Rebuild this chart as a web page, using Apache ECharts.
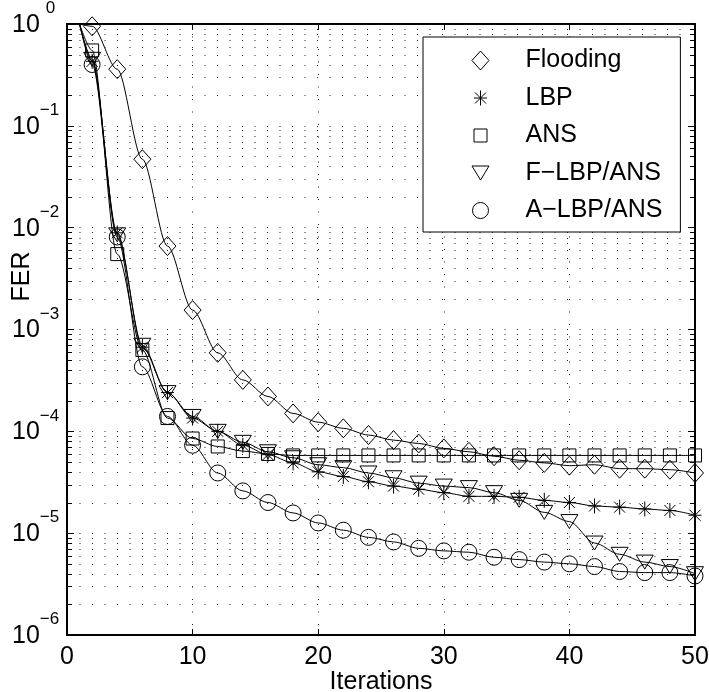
<!DOCTYPE html>
<html><head><meta charset="utf-8">
<script src="https://cdn.jsdelivr.net/npm/echarts@6/dist/echarts.min.js"></script>
<style>html,body{margin:0;padding:0;background:#fff}#c{width:709px;height:692px}</style>
</head><body><div id="c"></div>
<script>
const iterations = [1,2,4,6,8,10,12,14,16,18,20,22,24,26,28,30,32,34,36,38,40,42,44,46,48,50];
const flooding = [1,0.95,0.36,0.047,0.0066,0.00155,5.9e-4,3.2e-4,2.2e-4,1.5e-4,1.23e-4,1.07e-4,9.2e-5,8.2e-5,7.6e-5,6.8e-5,6.3e-5,5.7e-5,5.2e-5,4.9e-5,4.6e-5,4.7e-5,4.3e-5,4.3e-5,4.2e-5,3.9e-5];
const lbp = [1,0.43,0.0089,6.7e-4,2.4e-4,1.35e-4,1.0e-4,7.3e-5,5.9e-5,4.9e-5,4.0e-5,3.6e-5,3.2e-5,2.9e-5,2.7e-5,2.5e-5,2.3e-5,2.3e-5,2.25e-5,2.1e-5,2.0e-5,1.85e-5,1.8e-5,1.73e-5,1.67e-5,1.5e-5];
const ans = [1,0.55,0.0055,6.3e-4,1.35e-4,8.5e-5,7.1e-5,6.4e-5,6.0e-5,5.8e-5,5.8e-5,5.8e-5,5.8e-5,5.8e-5,5.8e-5,5.8e-5,5.8e-5,5.8e-5,5.8e-5,5.8e-5,5.8e-5,5.8e-5,5.8e-5,5.8e-5,5.8e-5,5.8e-5];
const flbp = [1,0.45,0.0085,7e-4,2.4e-4,1.4e-4,1.0e-4,7.8e-5,6.3e-5,5.5e-5,4.7e-5,4.4e-5,3.9e-5,3.5e-5,3.1e-5,2.9e-5,2.8e-5,2.5e-5,2.1e-5,1.6e-5,1.3e-5,8e-6,6.2e-6,5.2e-6,4.7e-6,4.0e-6];
const albp = [1,0.40,0.0081,4.3e-4,1.4e-4,7.3e-5,3.9e-5,2.6e-5,2.0e-5,1.58e-5,1.26e-5,1.07e-5,9.1e-6,8.2e-6,7.1e-6,6.7e-6,6.5e-6,5.8e-6,5.5e-6,5.2e-6,5.0e-6,4.7e-6,4.2e-6,4.1e-6,4.1e-6,3.8e-6];
const seriesNames = ['Flooding','LBP','ANS','F\u2212LBP/ANS','A\u2212LBP/ANS'];
const xTicks = [0,10,20,30,40,50];

const minorVals = [];
for (let e = -6; e < 0; e++) for (let m = 2; m <= 9; m++) minorVals.push(m * Math.pow(10, e));

const FONT = 'Liberation Sans, Arial, Helvetica, sans-serif';
const frame = 'M-10,-10M10,10';
const symbols = [
  'path://' + frame + 'M0,-9.5L8.5,0L0,9.5L-8.5,0Z',
  'path://' + frame + 'M0,-7.5L0,7.5M-6.5,0L6.5,0M-5.5,-5.5L5.5,5.5M-5.5,5.5L5.5,-5.5',
  'path://' + frame + 'M-6.5,-6.5L6.5,-6.5L6.5,6.5L-6.5,6.5Z',
  'path://' + frame + 'M-8.5,-7L8.5,-7L0,7Z',
  'path://' + frame + 'M-8,0A8,8,0,1,1,8,0A8,8,0,1,1,-8,0Z'
];
const allData = [flooding, lbp, ans, flbp, albp];

const chart = echarts.init(document.getElementById('c'), null, {renderer: 'canvas'});
const dot = [1, 11.5];

const lineSeries = allData.map((vals, i) => ({
  name: seriesNames[i],
  type: 'line',
  data: iterations.map((x, k) => k === 0 ? {value: [x, vals[k]], symbol: 'none'} : [x, vals[k]]),
  symbol: symbols[i],
  symbolSize: 20,
  showAllSymbol: true,
  smooth: 0.3,
  smoothMonotone: 'x',
  lineStyle: {color: '#000', width: 1},
  itemStyle: {color: 'rgba(0,0,0,0)', borderColor: '#000', borderWidth: 1},
  emphasis: {disabled: true},
  z: 3
}));

const gridSeries = {
  type: 'custom',
  data: minorVals.map(v => [0, v]),
  encode: {x: 0, y: 1},
  silent: true,
  z: 1,
  renderItem: (params, api) => {
    const v = api.value(1);
    const p0 = api.coord([0, v]);
    const p1 = api.coord([50, v]);
    const y = Math.round(p0[1]) + 0.5;
    return {type: 'group', children: [
      {type: 'line', shape: {x1: p0[0], y1: y, x2: p1[0], y2: y}, style: {stroke: '#222', lineWidth: 1, lineDash: dot}},
      {type: 'line', shape: {x1: p0[0], y1: y, x2: p0[0] + 5, y2: y}, style: {stroke: '#000', lineWidth: 1}},
      {type: 'line', shape: {x1: p1[0] - 5, y1: y, x2: p1[0], y2: y}, style: {stroke: '#000', lineWidth: 1}}
    ]};
  }
};

const yLabel = v => {
  const e = Math.round(Math.log10(v));
  return e === 0 ? '{b|10}{z|0}' : '{b|10}{s|\u2212' + (-e) + '}';
};

chart.setOption({
  animation: false,
  backgroundColor: '#fff',
  textStyle: {fontFamily: FONT, color: '#000'},
  grid: {left: 67, right: 14, top: 24, bottom: 57, containLabel: false, outerBoundsMode: 'none'},
  xAxis: [{
    type: 'value', min: 0, max: 50, interval: 10, position: 'bottom',
    name: 'Iterations', nameLocation: 'middle', nameGap: 35, nameMoveOverlap: false,
    nameTextStyle: {fontSize: 25, color: '#000', fontFamily: FONT},
    axisLine: {show: true, onZero: false, lineStyle: {color: '#000', width: 2}},
    axisTick: {show: true, inside: true, length: 6, lineStyle: {color: '#000'}},
    axisLabel: {fontSize: 25, color: '#000', margin: 10, fontFamily: FONT,
      formatter: v => xTicks.includes(v) ? String(v) : ''},
    splitLine: {show: true, lineStyle: {color: '#222', width: 1, type: dot}}
  }, {
    type: 'value', min: 0, max: 50, interval: 10, position: 'top',
    axisLine: {show: true, onZero: false, lineStyle: {color: '#000', width: 2}},
    axisTick: {show: true, inside: true, length: 6, lineStyle: {color: '#000'}},
    axisLabel: {show: false}, splitLine: {show: false}
  }],
  yAxis: [{
    type: 'log', logBase: 10, min: 1e-6, max: 1, position: 'left',
    name: 'FER', nameLocation: 'middle', nameGap: 32, nameRotate: 90, nameMoveOverlap: false,
    nameTextStyle: {fontSize: 25, color: '#000', fontFamily: FONT, padding: [0, 0, 0, 106]},
    axisLine: {show: true, onZero: false, lineStyle: {color: '#000', width: 2}},
    axisTick: {show: true, inside: true, length: 7, lineStyle: {color: '#000'}},
    axisLabel: {
      margin: 55, align: 'left', color: '#000', fontFamily: FONT,
      formatter: yLabel,
      rich: {
        b: {fontSize: 25, lineHeight: 48, verticalAlign: 'middle', padding: [2, 0, 0, 0], fontFamily: FONT, color: '#000'},
        s: {fontSize: 17, lineHeight: 17, verticalAlign: 'top', fontFamily: FONT, color: '#000'},
        z: {fontSize: 17, lineHeight: 17, verticalAlign: 'top', padding: [0, 0, 0, 6], fontFamily: FONT, color: '#000'}
      }
    },
    splitLine: {show: true, lineStyle: {color: '#222', width: 1, type: dot}}
  }, {
    type: 'log', logBase: 10, min: 1e-6, max: 1, position: 'right',
    axisLine: {show: true, onZero: false, lineStyle: {color: '#000', width: 2}},
    axisTick: {show: true, inside: true, length: 7, lineStyle: {color: '#000'}},
    axisLabel: {show: false}, splitLine: {show: false}
  }],
  legend: {
    orient: 'vertical', left: 423, top: 37,
    padding: [11, 18, 9, 47],
    itemWidth: 20, itemHeight: 20, itemGap: 12.5,
    backgroundColor: '#fff', borderColor: '#000', borderWidth: 1, borderRadius: 0,
    selectedMode: false,
    symbolKeepAspect: true,
    textStyle: {fontSize: 25, lineHeight: 20, color: '#000', fontFamily: FONT, padding: [0, 0, 0, 30]},
    itemStyle: {color: 'rgba(0,0,0,0)', borderColor: '#000', borderWidth: 1},
    data: seriesNames.map((n, i) => ({name: n, icon: symbols[i]}))
  },
  series: [gridSeries].concat(lineSeries)
});
</script>
</body></html>
